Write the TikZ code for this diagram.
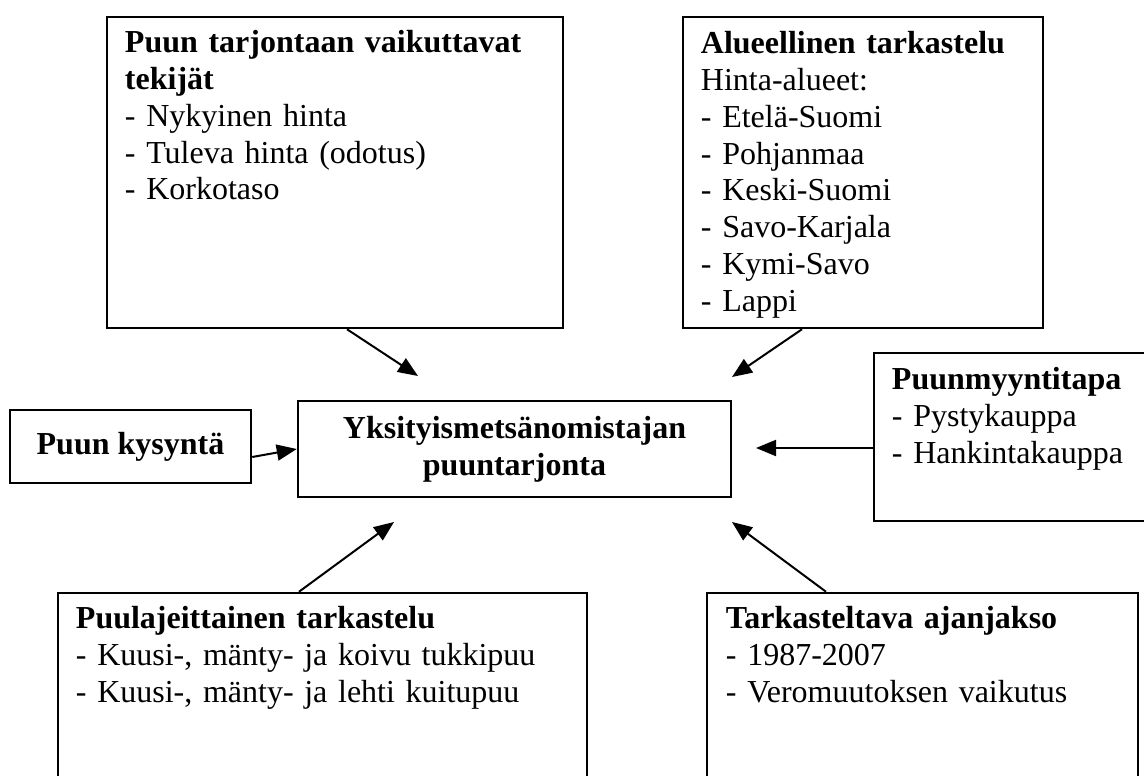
\documentclass[tikz,border=0pt]{standalone}
\usepackage{fontspec}
\setmainfont{Liberation Serif}
\usepackage{tikz}
\usetikzlibrary{arrows.meta,positioning}

\begin{document}
\begin{tikzpicture}[x=1pt,y=-1pt,font=\fontsize{32}{36.8}\selectfont]
\tikzstyle{box}=[rectangle,draw=black,line width=2.5pt,inner sep=0pt]
\tikzstyle{teksti}=[anchor=base west,align=left,inner sep=0pt,text width=560pt]
\tikzstyle{nuoli}=[line width=2pt,-{Triangle[length=20pt,width=16pt]}]
\useasboundingbox[fill=white] (0,0) rectangle (1144,776);

% laatikot
\node[box,minimum width=456pt,minimum height=311pt] at (335,172.5) (tekijat) {};
\node[box,minimum width=360pt,minimum height=311pt] at (863,172.5) (alueet) {};
\node[box,minimum width=241pt,minimum height=73pt,font=\fontsize{32}{36.8}\selectfont\bfseries] at (130.5,446.5) (kysynta) {Puun kysyntä\hspace{14pt}};
\node[box,minimum width=433pt,minimum height=96pt,align=center,font=\fontsize{32}{36.8}\selectfont\bfseries] at (514.5,449) (tarjonta) {Yksityismetsänomistajan\\puuntarjonta};
\node[box,minimum width=276pt,minimum height=168pt] at (1012,437) (myynti) {};
\node[box,minimum width=529pt,minimum height=207pt] at (322.5,696.5) (lajit) {};
\node[box,minimum width=431pt,minimum height=207pt] at (922.5,696.5) (jakso) {};

% tekstit
\node[teksti] at ([shift={(19,37)}]tekijat.north west) (tekijat-t) {\textbf{Puun tarjontaan vaikuttavat}\\\textbf{tekijät}\\- Nykyinen hinta\\- Tuleva hinta (odotus)\\- Korkotaso};
\node[teksti] at ([shift={(19,38)}]alueet.north west) (alueet-t) {\textbf{Alueellinen tarkastelu}\\Hinta-alueet:\\- Etelä-Suomi\\- Pohjanmaa\\- Keski-Suomi\\- Savo-Karjala\\- Kymi-Savo\\- Lappi};
\node[teksti] at ([shift={(19,38)}]myynti.north west) (myynti-t) {\textbf{Puunmyyntitapa}\\- Pystykauppa\\- Hankintakauppa};
\node[teksti] at ([shift={(19,37)}]lajit.north west) (lajit-t) {\textbf{Puulajeittainen tarkastelu}\\- Kuusi-, mänty- ja koivu tukkipuu\\- Kuusi-, mänty- ja lehti kuitupuu};
\node[teksti] at ([shift={(20,37)}]jakso.north west) (jakso-t) {\textbf{Tarkasteltava ajanjakso}\\- 1987-2007\\- Veromuutoksen vaikutus};

% nuolten kärjet
\coordinate (k1) at (418,376);
\coordinate (k2) at (732,377);
\coordinate (k3) at (756,448);
\coordinate (k4) at (394,522);
\coordinate (k5) at (732,522);

\draw[nuoli] ([xshift=12pt]tekijat.south) -- (k1);
\draw[nuoli] ([xshift=-61pt]alueet.south) -- (k2);
\draw[nuoli] ([yshift=-10.5pt]kysynta.east) -- (tarjonta.west);
\draw[nuoli] ([yshift=-11pt]myynti.west) -- (k3);
\draw[nuoli] ([xshift=-23.5pt]lajit.north) -- (k4);
\draw[nuoli] ([xshift=-96.5pt]jakso.north) -- (k5);

\end{tikzpicture}
\end{document}
